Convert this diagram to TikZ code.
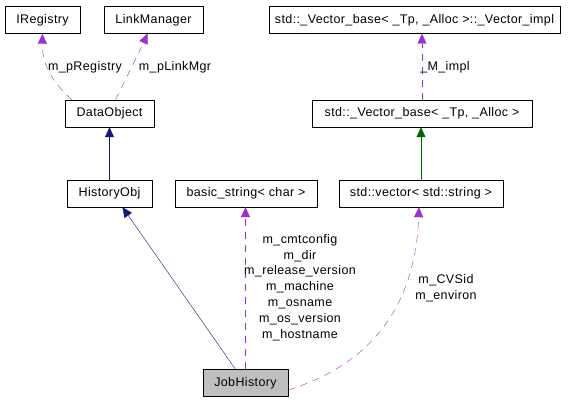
\documentclass[tikz,border=0pt]{standalone}
\usepackage{fontspec}
\setmainfont{Liberation Sans}[LetterSpace=3]
\usetikzlibrary{calc,positioning,arrows.meta}
\definecolor{inhblue}{HTML}{191970}
\definecolor{inhgreen}{HTML}{006400}
\definecolor{usepurple}{HTML}{9A32CD}

\begin{document}
\begin{tikzpicture}[x=1pt,y=-1pt,
  every node/.style={font=\fontsize{12.5}{15.8}\selectfont},
  cls/.style={draw,rectangle,inner sep=0pt,minimum height=27pt},
  inh/.style={draw=inhblue,-{Triangle[length=10pt,width=9pt]}},
  inhg/.style={draw=inhgreen,-{Triangle[length=10pt,width=9pt]}},
  use/.style={draw=usepurple,dashed,dash pattern=on 7pt off 6pt,-{Triangle[length=10pt,width=9pt]}},
  lbl/.style={inner sep=0pt,align=center}]
  \useasboundingbox (0,0) rectangle (579,403);
  \node[cls,minimum width=75pt] (ireg) at (42.5,20) {IRegistry};
  \node[cls,minimum width=99pt] (linkmgr) at (153.5,20) {LinkManager};
  \node[cls,minimum width=291pt] (vimpl) at (414.5,20) {std::\_Vector\_base< \_Tp, \_Alloc >::\_Vector\_impl};
  \node[cls,minimum width=89pt] (dataobj) at (109.5,113.5) {DataObject};
  \node[cls,minimum width=220pt] (vbase) at (422,113.5) {std::\_Vector\_base< \_Tp, \_Alloc >};
  \node[cls,minimum width=85pt] (histobj) at (109.5,193.5) {HistoryObj};
  \node[cls,minimum width=142pt] (bstring) at (246,193.5) {basic\_string< char >};
  \node[cls,minimum width=164pt] (vec) at (421,193.5) {std::vector< std::string >};
  \node[cls,minimum width=85pt,fill=black!25] (jobhist) at (245.5,383) {JobHistory};
  % inheritance
  \draw[inh] (dataobj.north |- histobj.north) -- (dataobj.south);
  \draw[inh] ([xshift=-10pt]jobhist.north) -- ([xshift=13pt]histobj.south);
  \draw[inhg] (vec.north) -- (vec.north |- vbase.south);
  % usage
  \draw[use] ([xshift=7pt]dataobj.north west) .. controls (50,80) and (42,62) .. (ireg.south);
  \draw[use] ([xshift=6pt]dataobj.north) .. controls (125,80) and (138,55) .. ([xshift=-6pt]linkmgr.south);
  \draw[use] (vbase.north) -- (vbase.north |- vimpl.south);
  \draw[use] (jobhist.north) -- (jobhist.north |- bstring.south);
  \draw[use] ([yshift=-7pt]jobhist.east) .. controls (385,360) and (416,290) .. ([xshift=-2pt]vec.south);
  % labels
  \node[lbl] (lreg) at (85,67) {m\_pRegistry};
  \node[lbl] (llink) at (175,67) {m\_pLinkMgr};
  \node[lbl] (limpl) at (445,67) {\_M\_impl};
  \node[lbl] (lstr) at (300,287.5) {m\_cmtconfig\\m\_dir\\m\_release\_version\\m\_machine\\m\_osname\\m\_os\_version\\m\_hostname};
  \node[lbl] (lvec) at (446,288) {m\_CVSid\\m\_environ};
\end{tikzpicture}
\end{document}
